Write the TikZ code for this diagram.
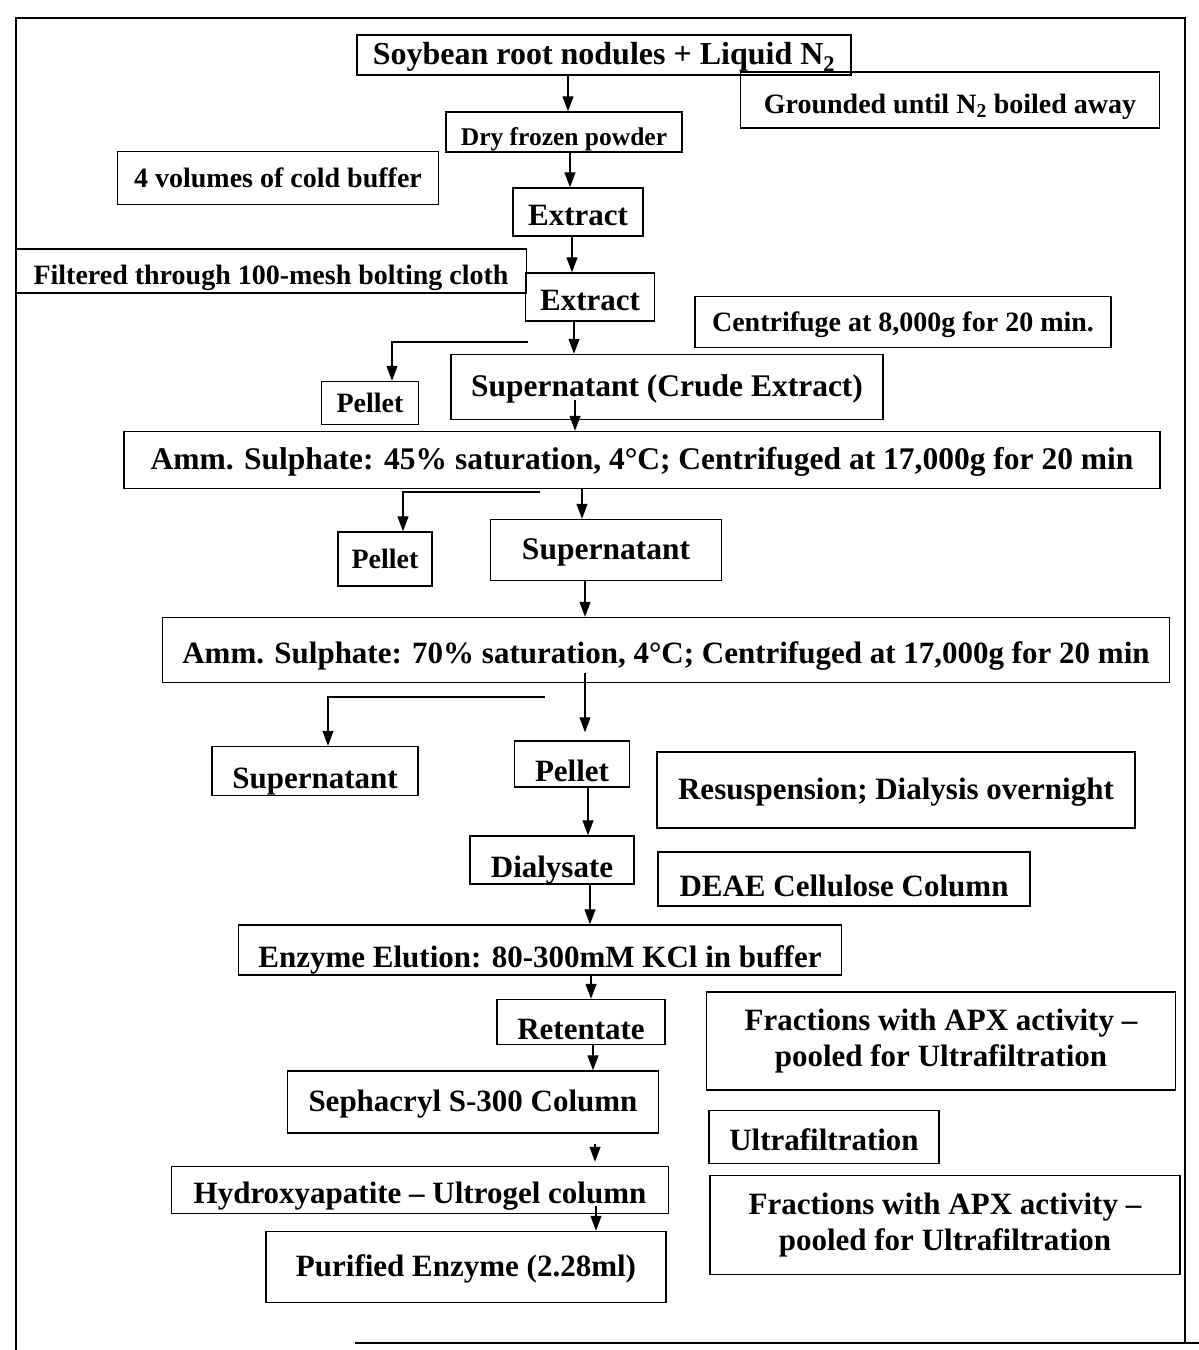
\documentclass[tikz,border=0pt]{standalone}
\usepackage{fontspec}
\setmainfont{Liberation Serif}
\usetikzlibrary{arrows.meta}
\begin{document}
\begin{tikzpicture}[x=1pt,y=-1pt,
  box/.style={draw, line width=1.5pt, inner sep=0pt, align=center,
    font=\bfseries\fontsize{31}{36}\selectfont},
  mid/.style={box, text height=23pt, text depth=3.5pt},
  low/.style={box, text height=27pt, text depth=0pt},
  sunk/.style={box, text height=35pt, text depth=0pt},
  flow/.style={line width=1.3pt, -{Triangle[length=15pt,width=11pt]}},
  branch/.style={line width=1.3pt, -{Triangle[length=15pt,width=11pt]}},
  frame/.style={line width=1.6pt}]
\useasboundingbox (0,0) rectangle (1199,1350);

% page frame
\draw[frame] (16,1350) -- (16,18) -- (1185,18) -- (1185,1343);
\draw[frame] (355,1343) -- (1199,1343);

% process steps
\node[mid, minimum width=494, minimum height=40, font=\bfseries\fontsize{32}{36}\selectfont] (soy) at (604,55) {Soybean root nodules + Liquid N\textsubscript{2}};
\node[low, minimum width=419, minimum height=56, font=\bfseries\fontsize{28}{33}\selectfont] (grind) at (950,100) {Grounded until N\textsubscript{2} boiled away};
\node[low, minimum width=236, minimum height=40, font=\bfseries\fontsize{25.5}{30}\selectfont] (dry) at (564,132) {Dry frozen powder};
\node[mid, minimum width=321, minimum height=53, font=\bfseries\fontsize{28}{33}\selectfont] (buf) at (278,178) {4 volumes of cold buffer};
\node[low, minimum width=130, minimum height=48] (ext1) at (578,212) {Extract};
\node[low, minimum width=511, minimum height=44, font=\bfseries\fontsize{28}{33}\selectfont] (filt) at (271,271) {Filtered through 100-mesh bolting cloth};
\node[low, minimum width=129, minimum height=48] (ext2) at (590,297) {Extract};
\node[mid, minimum width=416, minimum height=51, font=\bfseries\fontsize{28}{33}\selectfont] (cent) at (903,322) {Centrifuge at 8,000g for 20 min.};
\node[mid, minimum width=97, minimum height=43, font=\bfseries\fontsize{28}{33}\selectfont] (pel1) at (370,403) {Pellet};
\node[mid, minimum width=432, minimum height=65, font=\bfseries\fontsize{31.5}{36}\selectfont] (sup1) at (667,387) {Supernatant (Crude Extract)};
\node[mid, minimum width=1036, minimum height=57, font=\bfseries\fontsize{31.5}{36}\selectfont] (amm1) at (642,460) {Amm. Sulphate: 45\% saturation, 4°C; Centrifuged at 17,000g for 20 min};
\node[mid, minimum width=94, minimum height=54, font=\bfseries\fontsize{28}{33}\selectfont] (pel2) at (385,559) {Pellet};
\node[mid, minimum width=231, minimum height=61, font=\bfseries\fontsize{31.5}{36}\selectfont] (sup2) at (606,550) {Supernatant};
\node[low, minimum width=1007, minimum height=65] (amm2) at (666,650) {Amm. Sulphate: 70\% saturation, 4°C; Centrifuged at 17,000g for 20 min};
\node[sunk, minimum width=206, minimum height=49] (sup3) at (315,771) {Supernatant};
\node[sunk, minimum width=115, minimum height=46] (pel3) at (572,764) {Pellet};
\node[mid, minimum width=478, minimum height=76] (resus) at (896,790) {Resuspension; Dialysis overnight};
\node[sunk, minimum width=164, minimum height=48] (dial) at (552,860) {Dialysate};
\node[sunk, minimum width=372, minimum height=54] (deae) at (844,879) {DEAE Cellulose Column};
\node[sunk, minimum width=603, minimum height=50] (elu) at (540,950) {Enzyme Elution: 80-300mM KCl in buffer};
\node[sunk, minimum width=168, minimum height=45] (ret) at (581,1022) {Retentate};
\node[box, minimum width=469, minimum height=98] (frac1) at (941,1041) {Fractions with APX activity –\\pooled for Ultrafiltration};
\node[mid, minimum width=371, minimum height=62] (seph) at (473,1102) {Sephacryl S-300 Column};
\node[low, minimum width=230, minimum height=53] (ultra) at (824,1137) {Ultrafiltration};
\node[low, minimum width=497, minimum height=47] (hyd) at (420,1190) {Hydroxyapatite – Ultrogel column};
\node[box, minimum width=470, minimum height=99] (frac2) at (945,1225) {Fractions with APX activity –\\pooled for Ultrafiltration};
\node[mid, minimum width=400, minimum height=71] (pur) at (466,1267) {Purified Enzyme (2.28ml)};

% columns of the downward arrows
\coordinate (k1) at ([xshift=4pt]dry.north);
\coordinate (k2) at ([xshift=-8pt]ext1.north);
\coordinate (k3) at ([xshift=-18pt]ext2.north);
\coordinate (k4) at ([xshift=-93pt]sup1.north);
\coordinate (k5) at ([xshift=-67pt]amm1.north);
\coordinate (k6) at ([xshift=-24pt]sup2.north);
\coordinate (k7) at ([xshift=-81pt]amm2.north);
\coordinate (k8) at ([xshift=13pt]pel3.north);
\coordinate (k9) at ([xshift=36pt]dial.north);
\coordinate (k10) at ([xshift=50pt]elu.north);
\coordinate (k11) at ([xshift=10pt]ret.north);
\coordinate (k12) at ([xshift=120pt]seph.north);
\coordinate (k13) at ([xshift=175pt]hyd.north);
\coordinate (k14) at ([xshift=130pt]pur.north);

% start points that lie inside the upper box
\coordinate (s5) at (k5 |- sup1.south);
\coordinate (s8) at (k8 |- amm2.south);
\coordinate (s14) at (k14 |- hyd.south);

\draw[flow] (k1 |- soy.south) -- (k1);
\draw[flow] (k2 |- dry.south) -- (k2);
\draw[flow] (k3 |- ext1.south) -- (k3);
\draw[flow] (k4 |- ext2.south) -- (k4);
\draw[flow] ([yshift=20pt]s5) -- (k5);
\draw[flow] (k6 |- amm1.south) -- (k6);
\draw[flow] (k7 |- sup2.south) -- (k7);
\draw[flow, shorten >=8pt] ([yshift=10pt]s8) -- (k8);
\draw[flow] (k9 |- pel3.south) -- (k9);
\draw[flow] (k10 |- dial.south) -- (k10);
\draw[flow] (k11 |- elu.south) -- (k11);
\draw[flow] (k12 |- ret.south) -- (k12);
\draw[flow, shorten <=10pt, shorten >=4pt] (k13 |- seph.south) -- (k13);
\draw[flow] ([yshift=8pt]s14) -- (k14);

% side branches to the discarded fractions
\coordinate (b1) at (528,342);
\coordinate (b2) at (540,492);
\coordinate (b3) at (545,697);
\draw[branch] (b1) -| ([xshift=22pt]pel1.north);
\draw[branch] (b2) -| ([xshift=18pt]pel2.north);
\draw[branch] (b3) -| ([xshift=13pt]sup3.north);
\end{tikzpicture}
\end{document}
